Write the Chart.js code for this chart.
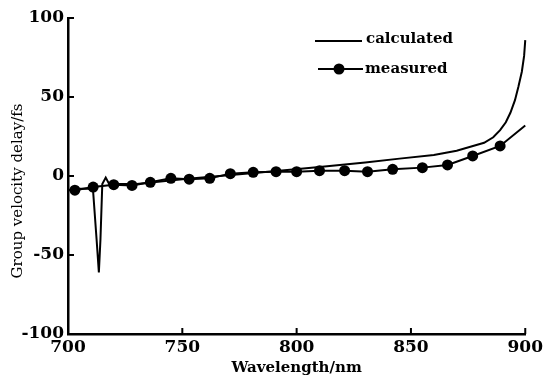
<!DOCTYPE html>
<html>
<head>
<meta charset="utf-8">
<script src="https://cdn.jsdelivr.net/npm/chart.js@4.4.1/dist/chart.umd.min.js"></script>
<style>
  html, body { margin: 0; padding: 0; background: #fff; }
  #wrap { width: 546px; height: 379px; }
</style>
</head>
<body>
<div id="wrap"><canvas id="gvdChart" width="546" height="379"></canvas></div>
<script>
// values
const xTicks = [700, 750, 800, 850, 900];
const yTicks = [-100, -50, 0, 50, 100];

const calcWavelength = [700, 705, 709, 711, 712.5, 713.5, 714.2, 715, 716.5, 718, 730, 750, 770, 790, 810, 830, 845, 860, 870, 876, 882, 886, 889, 891.5, 893.5, 895.5, 897, 898.5, 899.5, 900];
const calcDelay =      [-9, -8, -8, -10, -40, -61, -40, -5, -1, -5, -5, -2, 0.5, 3, 5.7, 8.5, 11, 13.3, 16, 18.5, 21, 24.5, 29, 34, 40, 48, 56.5, 66, 76, 86];

const measWavelength = [703, 711, 720, 728, 736, 745, 753, 762, 771, 781, 791, 800, 810, 821, 831, 842, 855, 866, 877, 889, 900];
const measDelay =      [-9, -7, -5.5, -6, -4, -1.5, -2, -1.5, 1.5, 2.3, 2.7, 2.7, 3.4, 3.4, 2.7, 4.2, 5.3, 7, 12.7, 19, 32];

const seriesNames = ['calculated', 'measured'];

const FONT = '"DejaVu Serif", "Liberation Serif", serif';

// inner tick marks, y title and legend
const decorPlugin = {
    id: 'decor',
    afterDraw(chart) {
        const ctx = chart.ctx;
        const xs = chart.scales.x, ys = chart.scales.y;
        ctx.save();
        ctx.strokeStyle = '#000';
        ctx.lineWidth = 2;
        yTicks.forEach(v => {
            const py = ys.getPixelForValue(v);
            ctx.beginPath();
            ctx.moveTo(xs.left, py);
            ctx.lineTo(xs.left + 6, py);
            ctx.stroke();
        });
        xTicks.forEach(v => {
            const px = xs.getPixelForValue(v);
            ctx.beginPath();
            ctx.moveTo(px, ys.bottom);
            ctx.lineTo(px, ys.bottom - 6);
            ctx.stroke();
        });

        // y axis title
        ctx.fillStyle = '#000';
        ctx.save();
        ctx.translate(18, 191);
        ctx.rotate(-Math.PI / 2);
        ctx.font = '15px ' + FONT;
        ctx.textAlign = 'center';
        ctx.textBaseline = 'middle';
        ctx.fillText('Group velocity delay/fs', 0, 0);
        ctx.restore();

        // legend
        ctx.lineWidth = 2;
        ctx.beginPath();
        ctx.moveTo(315, 41);
        ctx.lineTo(362, 41);
        ctx.stroke();
        ctx.beginPath();
        ctx.moveTo(318, 69);
        ctx.lineTo(363, 69);
        ctx.stroke();
        ctx.beginPath();
        ctx.arc(339, 69, 5.5, 0, Math.PI * 2);
        ctx.fill();
        ctx.font = 'bold 15px ' + FONT;
        ctx.textBaseline = 'middle';
        ctx.textAlign = 'left';
        ctx.fillText(seriesNames[0], 366, 39);
        ctx.fillText(seriesNames[1], 365, 69);
        ctx.restore();
    }
};

const ctx = document.getElementById('gvdChart').getContext('2d');
new Chart(ctx, {
    type: 'scatter',
    data: {
        datasets: [{
            label: seriesNames[0],
            data: calcWavelength.map((x, i) => ({ x: x, y: calcDelay[i] })),
            showLine: true,
            borderColor: '#000',
            borderWidth: 2,
            pointRadius: 0,
            tension: 0,
            clip: false
        }, {
            label: seriesNames[1],
            data: measWavelength.map((x, i) => ({ x: x, y: measDelay[i] })),
            showLine: true,
            borderColor: '#000',
            backgroundColor: '#000',
            borderWidth: 2,
            pointRadius: c => c.dataIndex === measWavelength.length - 1 ? 0 : 5.5,
            pointBackgroundColor: '#000',
            pointBorderWidth: 0,
            tension: 0,
            clip: false
        }]
    },
    options: {
        responsive: false,
        animation: false,
        layout: { padding: { top: 18, right: 13, bottom: 0, left: 0 } },
        plugins: {
            legend: { display: false },
            tooltip: { enabled: false }
        },
        scales: {
            x: {
                type: 'linear',
                min: 700,
                max: 900,
                afterBuildTicks: s => { s.ticks = xTicks.map(v => ({ value: v })); },
                afterFit: s => { s.height = 379 - 334; },
                border: { display: true, color: '#000', width: 2.5 },
                grid: { drawOnChartArea: false, drawTicks: false },
                ticks: {
                    color: '#000',
                    padding: 3,
                    maxRotation: 0,
                    font: { family: FONT, size: 17, weight: 'bold' }
                },
                title: {
                    display: true,
                    text: 'Wavelength/nm',
                    color: '#000',
                    padding: { top: 0, bottom: 2 },
                    font: { family: FONT, size: 15, weight: 'bold' }
                }
            },
            y: {
                type: 'linear',
                min: -100,
                max: 100,
                afterBuildTicks: s => { s.ticks = yTicks.map(v => ({ value: v })); },
                afterFit: s => { s.width = 68; },
                border: { display: true, color: '#000', width: 2.5 },
                grid: { drawOnChartArea: false, drawTicks: false },
                ticks: {
                    color: '#000',
                    padding: 4,
                    font: { family: FONT, size: 17, weight: 'bold' }
                }
            }
        }
    },
    plugins: [decorPlugin]
});
</script>
</body>
</html>
